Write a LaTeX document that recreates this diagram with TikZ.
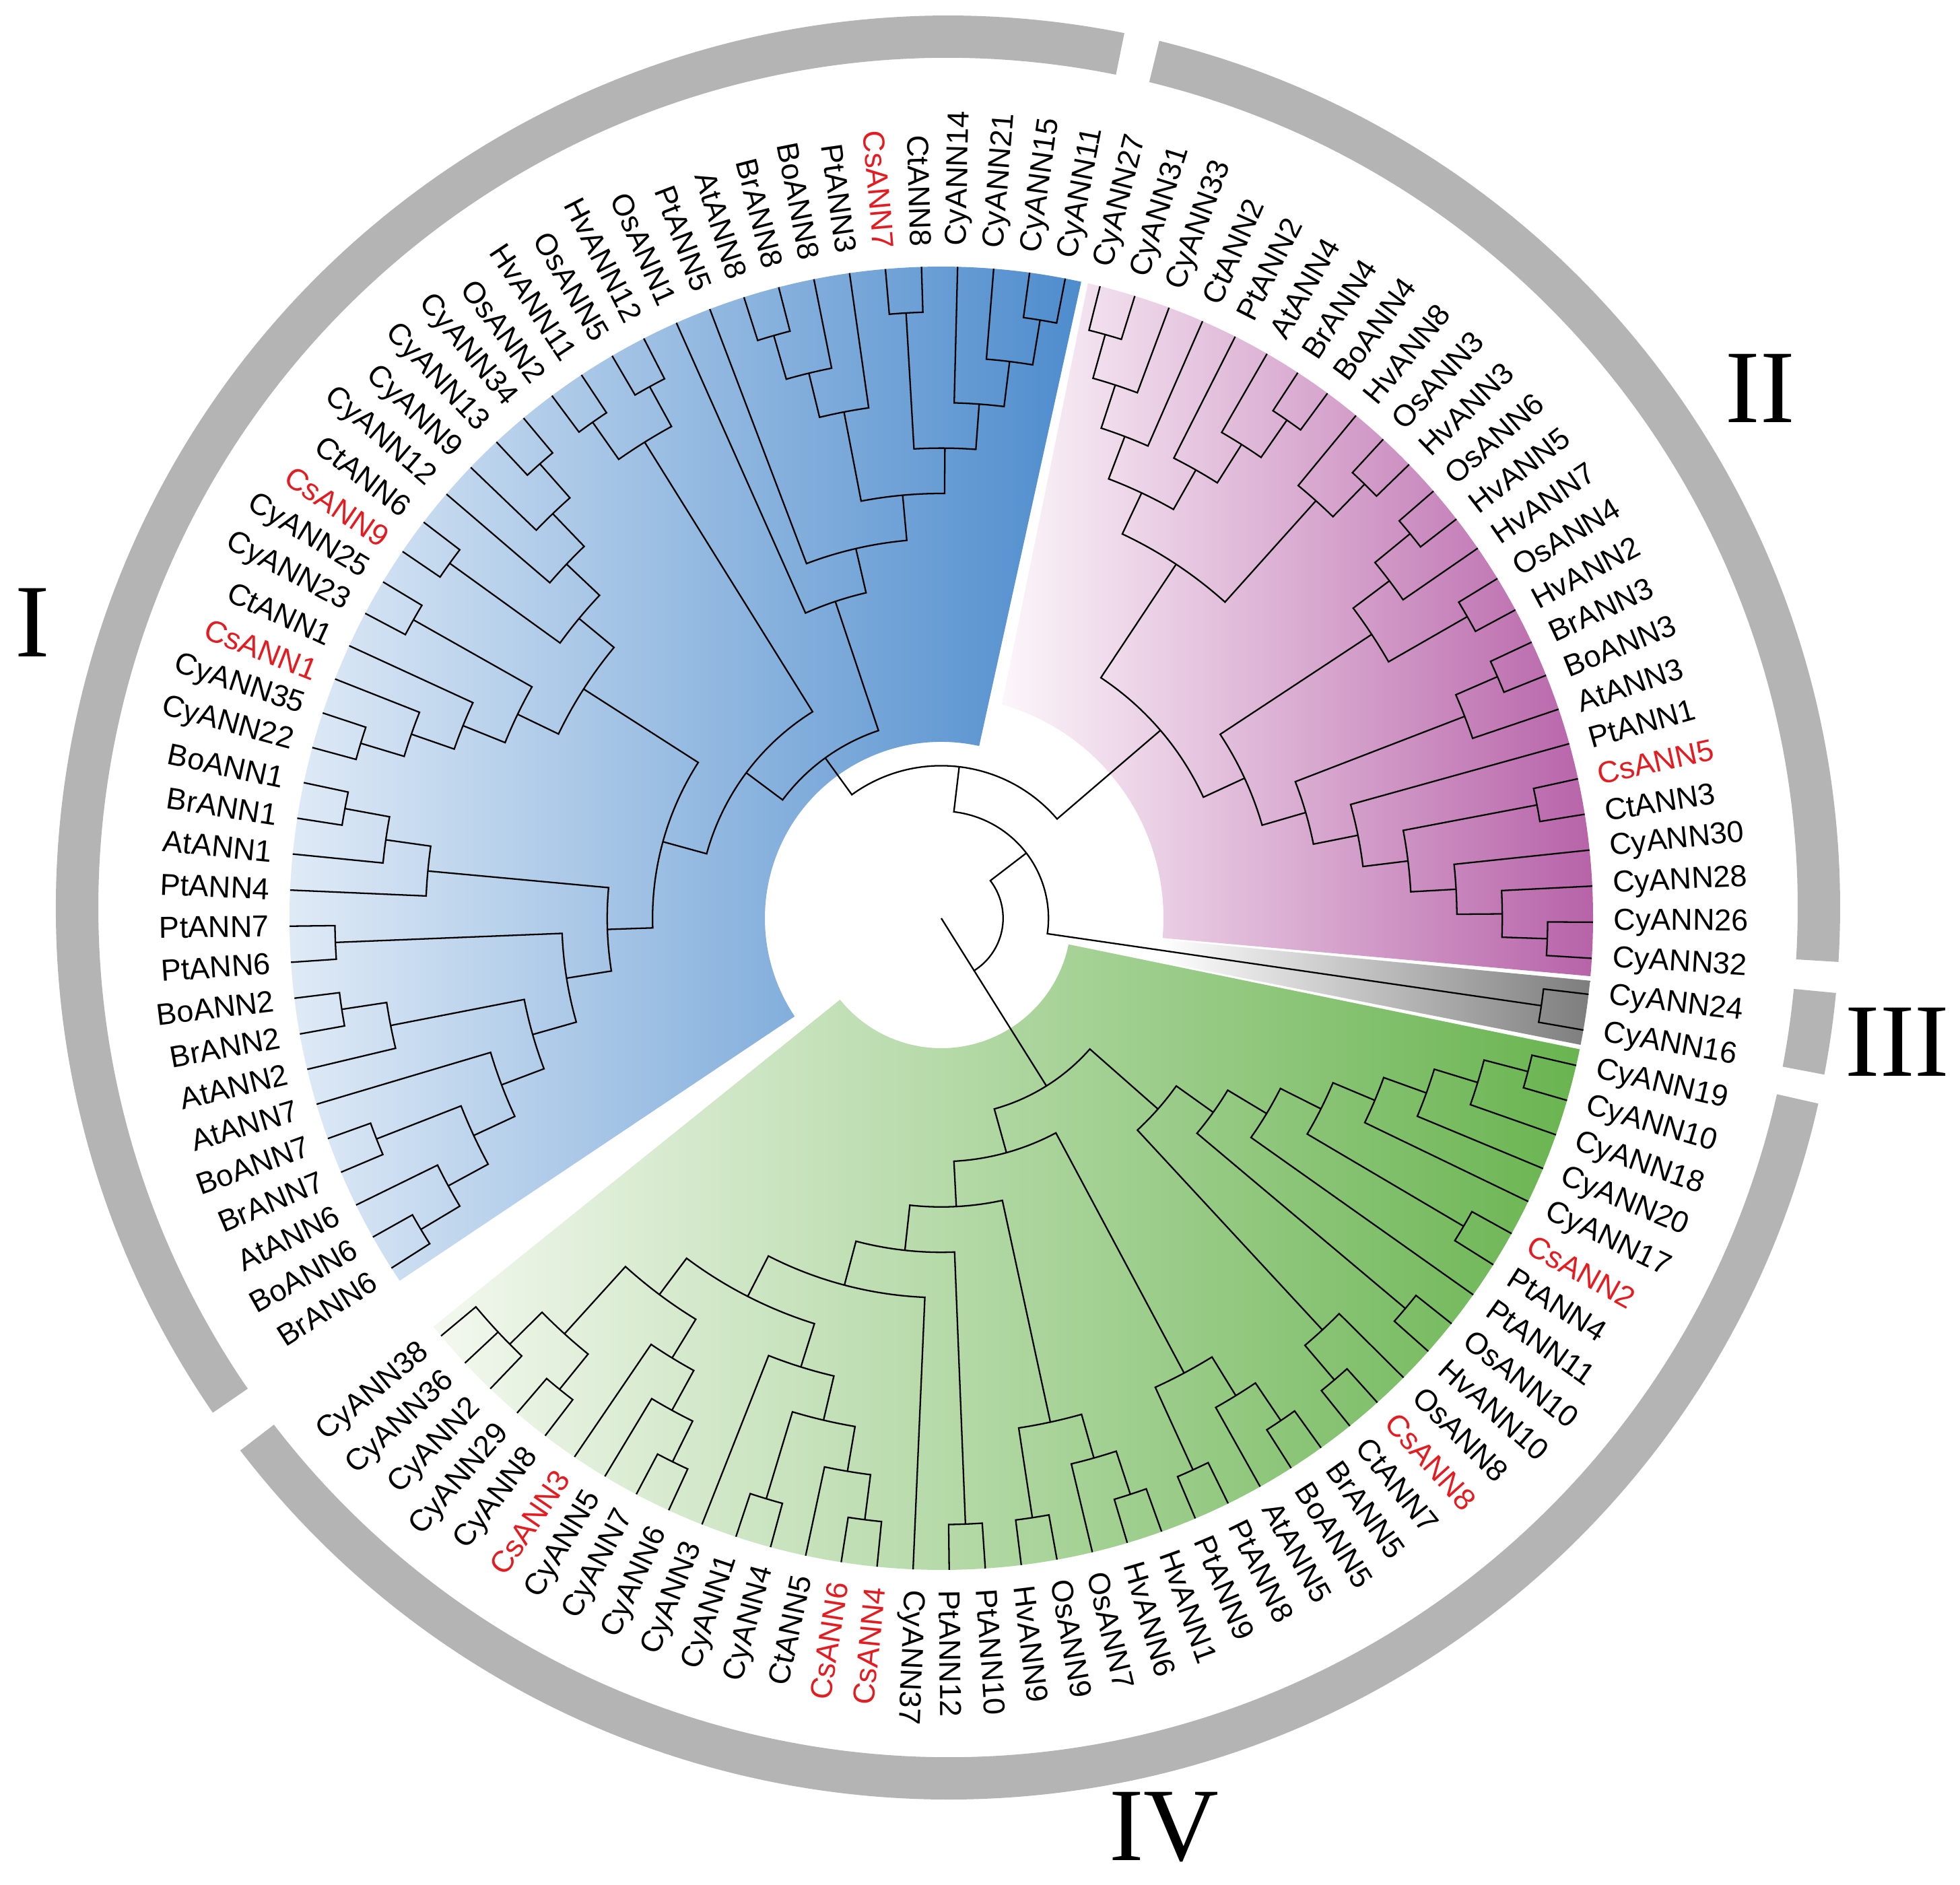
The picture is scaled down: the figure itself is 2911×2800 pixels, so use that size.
\documentclass[tikz,border=0pt]{standalone}
\usepackage{fontspec}
\setmainfont{Liberation Sans}
\newfontfamily\romanfont{Liberation Serif}
\definecolor{labred}{RGB}{226,28,33}
\definecolor{ringgray}{RGB}{180,180,180}
\definecolor{bluedark}{RGB}{78,140,205}
\definecolor{bluelight}{RGB}{240,245,251}
\definecolor{pinkdark}{RGB}{180,92,165}
\definecolor{pinklight}{RGB}{252,246,250}
\definecolor{greendark}{RGB}{105,180,80}
\definecolor{greenlight}{RGB}{243,248,239}
\definecolor{greydark}{RGB}{125,125,125}
\newcount\tlIdx
\def\Rt{968}
\def\dH{67.4}
\def\Rlab{998}
\newcommand\tleaf[2][black]{%
  \edef\tlI{\the\tlIdx}%
  \ifnum\tlIdx<69 \pgfmathsetmacro\tlAng{75.9-3.177*\tlI}\else\pgfmathsetmacro\tlAng{431.68-3.177*\tlI}\fi
  \expandafter\xdef\csname A@L\tlI\endcsname{\tlAng}%
  \expandafter\xdef\csname H@L\tlI\endcsname{0}%
  \coordinate (L\tlI) at (\tlAng:\Rt);%
  \pgfmathsetmacro\tlNorm{mod(\tlAng+540,360)-180}%
  \pgfmathtruncatemacro\tlIsR{and(\tlNorm>-94,\tlNorm<90)}%
  \ifnum\tlIsR=1
    \node[lbl,text=#1,anchor=west,rotate=\tlNorm] (T\tlI) at (\tlAng:\Rlab) {#2};%
  \else
    \node[lbl,text=#1,anchor=east,rotate=\tlNorm+180] (T\tlI) at (\tlAng:\Rlab) {#2};%
  \fi
  \global\advance\tlIdx by 1\relax}
\newcommand\tnode[3]{%
  \edef\tnA{\csname A@#2\endcsname}\edef\tnB{\csname A@#3\endcsname}%
  \edef\tnhA{\csname H@#2\endcsname}\edef\tnhB{\csname H@#3\endcsname}%
  \pgfmathtruncatemacro\tnhN{max(\tnhA,\tnhB)+1}%
  \pgfmathsetmacro\tnrN{\Rt-\dH*\tnhN}%
  \pgfmathsetmacro\tnaM{(\tnA+\tnB)/2}%
  \draw[br] (#2) -- (\tnA:\tnrN) arc[start angle=\tnA,end angle=\tnB,radius=\tnrN] -- (#3);%
  \coordinate (#1) at (\tnaM:\tnrN);%
  \expandafter\xdef\csname A@#1\endcsname{\tnaM}%
  \expandafter\xdef\csname H@#1\endcsname{\tnhN}}
\newcommand\annsec[5]{%
  \path[#5] (#1:#3) arc[start angle=#1,end angle=#2,radius=#3] -- (#2:#4) arc[start angle=#2,end angle=#1,radius=#4] -- cycle;}
\begin{document}
\begin{tikzpicture}[x=0.01cm,y=0.01cm,
  lbl/.style={font=\fontsize{12.8}{14}\selectfont,inner sep=0pt},
  br/.style={line width=0.65pt,black,line join=miter},
  roman/.style={font=\romanfont\fontsize{44}{44}\selectfont,inner sep=0pt}]
\useasboundingbox (-1398,-1436) rectangle (1513,1364);
% shaded clade sectors
\annsec{77.6}{213.8}{262}{968}{shade,left color=bluelight,right color=bluedark}
\shade[left color=pinklight,right color=pinkdark] (77.0:968) -- (74.2:330) arc[start angle=74.2,end angle=-5.1,radius=330] -- (-5.1:968) arc[start angle=-5.1,end angle=77.0,radius=968] -- cycle;
\annsec{-5.5}{-11.2}{330}{968}{shade,left color=white,right color=greydark}
\annsec{-11.6}{-141.2}{193}{968}{shade,left color=greenlight,right color=greendark}
% outer ring segments
\begin{scope}[shift={(10,16)}]
\annsec{78.6}{214.5}{1262}{1325}{fill=ringgray}
\annsec{76.3}{-3.5}{1262}{1325}{fill=ringgray}
\annsec{-5.5}{-10.8}{1262}{1325}{fill=ringgray}
\annsec{-12.7}{-142.5}{1262}{1325}{fill=ringgray}
\end{scope}
% leaves: clade II
\tleaf{CyANN27}\tleaf{CyANN31}\tleaf{CyANN33}\tleaf{CtANN2}\tleaf{PtANN2}\tleaf{AtANN4}\tleaf{BrANN4}\tleaf{BoANN4}\tleaf{HvANN8}\tleaf{OsANN3}\tleaf{HvANN3}\tleaf{OsANN6}\tleaf{HvANN5}\tleaf{HvANN7}\tleaf{OsANN4}\tleaf{HvANN2}\tleaf{BrANN3}\tleaf{BoANN3}\tleaf{AtANN3}\tleaf{PtANN1}\tleaf[labred]{CsANN5}\tleaf{CtANN3}\tleaf{CyANN30}\tleaf{CyANN28}\tleaf{CyANN26}\tleaf{CyANN32}
% clade III
\tleaf{CyANN24}\tleaf{CyANN16}
% clade IV
\tleaf{CyANN19}\tleaf{CyANN10}\tleaf{CyANN18}\tleaf{CyANN20}\tleaf{CyANN17}\tleaf[labred]{CsANN2}\tleaf{PtANN4}\tleaf{PtANN11}\tleaf{OsANN10}\tleaf{HvANN10}\tleaf{OsANN8}\tleaf[labred]{CsANN8}\tleaf{CtANN7}\tleaf{BrANN5}\tleaf{BoANN5}\tleaf{AtANN5}\tleaf{PtANN8}\tleaf{PtANN9}\tleaf{HvANN1}\tleaf{HvANN6}\tleaf{OsANN7}\tleaf{OsANN9}\tleaf{HvANN9}\tleaf{PtANN10}\tleaf{PtANN12}\tleaf{CyANN37}\tleaf[labred]{CsANN4}\tleaf[labred]{CsANN6}\tleaf{CtANN5}\tleaf{CyANN4}\tleaf{CyANN1}\tleaf{CyANN3}\tleaf{CyANN6}\tleaf{CyANN7}\tleaf{CyANN5}\tleaf[labred]{CsANN3}\tleaf{CyANN8}\tleaf{CyANN29}\tleaf{CyANN2}\tleaf{CyANN36}\tleaf{CyANN38}
% clade I
\tleaf{BrANN6}\tleaf{BoANN6}\tleaf{AtANN6}\tleaf{BrANN7}\tleaf{BoANN7}\tleaf{AtANN7}\tleaf{AtANN2}\tleaf{BrANN2}\tleaf{BoANN2}\tleaf{PtANN6}\tleaf{PtANN7}\tleaf{PtANN4}\tleaf{AtANN1}\tleaf{BrANN1}\tleaf{BoANN1}\tleaf{CyANN22}\tleaf{CyANN35}\tleaf[labred]{CsANN1}\tleaf{CtANN1}\tleaf{CyANN23}\tleaf{CyANN25}\tleaf[labred]{CsANN9}\tleaf{CtANN6}\tleaf{CyANN12}\tleaf{CyANN9}\tleaf{CyANN13}\tleaf{CyANN34}\tleaf{OsANN2}\tleaf{HvANN11}\tleaf{OsANN5}\tleaf{HvANN12}\tleaf{OsANN1}\tleaf{PtANN5}\tleaf{AtANN8}\tleaf{BrANN8}\tleaf{BoANN8}\tleaf{PtANN3}\tleaf[labred]{CsANN7}\tleaf{CtANN8}\tleaf{CyANN14}\tleaf{CyANN21}\tleaf{CyANN15}\tleaf{CyANN11}
% tree: clade II
\tnode{B1}{L0}{L1}\tnode{B2}{B1}{L2}\tnode{B3}{B2}{L3}
\tnode{B7}{L6}{L7}\tnode{B6}{L5}{B7}\tnode{B5}{L4}{B6}\tnode{B4}{B3}{B5}
\tnode{Qp}{L9}{L10}\tnode{Q}{L8}{Qp}\tnode{B8}{B4}{Q}
\tnode{T1a}{L11}{L12}\tnode{T1}{T1a}{L13}\tnode{T2}{L14}{L15}\tnode{T}{T1}{T2}
\tnode{Vp}{L16}{L17}\tnode{V}{Vp}{L18}
\tnode{U7}{L24}{L25}\tnode{U6}{L23}{U7}\tnode{U5}{L22}{U6}\tnode{U4}{L20}{L21}
\tnode{U3}{U4}{U5}\tnode{U2}{L19}{U3}\tnode{U}{V}{U2}\tnode{S}{T}{U}\tnode{RII}{B8}{S}
% clade III
\tnode{GG}{L26}{L27}
% clade IV
\tnode{E1}{L28}{L29}\tnode{E2}{E1}{L30}\tnode{E3}{E2}{L31}\tnode{E4}{E3}{L32}
\tnode{X5}{L33}{L34}\tnode{E5}{E4}{X5}\tnode{D}{E5}{L35}\tnode{Xb}{L36}{L37}\tnode{BB}{D}{Xb}
\tnode{Cp}{L39}{L40}\tnode{CC}{L38}{Cp}\tnode{AA}{BB}{CC}
\tnode{Hbb}{L41}{L42}\tnode{Hb}{Hbb}{L43}\tnode{Hp}{L44}{L45}\tnode{HH}{Hb}{Hp}
\tnode{Hv}{L46}{L47}\tnode{Ht}{Hv}{L48}\tnode{Ho}{L49}{L50}\tnode{Hq}{Ht}{Ho}
\tnode{P12}{L51}{L52}
\tnode{G1a}{L66}{L67}
\edef\aLsix{\csname A@L67\endcsname}\edef\aLeight{\csname A@L68\endcsname}
\pgfmathsetmacro\rHone{\Rt-\dH}
\draw[br] (L68) -- (\aLeight:\rHone) arc[start angle=\aLeight,end angle=\aLsix,radius=\rHone];
\tnode{G1b}{L64}{L65}\tnode{G2}{G1b}{G1a}
\tnode{Gx1}{L60}{L61}\tnode{Gx2}{Gx1}{L62}\tnode{G3c}{Gx2}{L63}\tnode{G4a}{G3c}{G2}
\tnode{Gy1}{L54}{L55}\tnode{Gy2}{Gy1}{L56}\tnode{Gy3}{L57}{L58}\tnode{G3b}{Gy2}{Gy3}\tnode{G4b}{G3b}{L59}
\tnode{G5}{G4b}{G4a}\tnode{G6}{L53}{G5}\tnode{G7}{P12}{G6}\tnode{G8}{Hq}{G7}
\tnode{FF}{HH}{G8}\tnode{RIV}{AA}{FF}
% clade I
\tnode{K1}{L69}{L70}\tnode{K2}{L71}{K1}\tnode{K3}{L72}{L73}\tnode{K4}{K2}{K3}\tnode{K5}{K4}{L74}
\tnode{K6}{L76}{L77}\tnode{K7}{L75}{K6}\tnode{K8}{K5}{K7}\tnode{K9}{L78}{L79}\tnode{N6}{K8}{K9}
\tnode{K10}{L82}{L83}\tnode{K11}{L81}{K10}\tnode{K12}{L80}{K11}\tnode{N7}{N6}{K12}
\tnode{Z1}{L84}{L85}\tnode{Z2}{Z1}{L86}\tnode{Z3}{Z2}{L87}\tnode{Z4a}{L88}{L89}\tnode{Z4}{Z3}{Z4a}
\tnode{Y1}{L90}{L91}\tnode{S1}{L94}{L95}\tnode{S2}{L93}{S1}\tnode{S3}{L92}{S2}\tnode{W}{Y1}{S3}
\tnode{Z5}{Z4}{W}\tnode{N8}{N7}{Z5}
\tnode{c1}{L96}{L97}\tnode{c2}{L98}{L99}\tnode{cc}{c1}{c2}\tnode{N9}{N8}{cc}
\tnode{M1}{L102}{L103}\tnode{M2}{M1}{L104}\tnode{M3}{M2}{L105}
\tnode{Mc}{L106}{L107}\tnode{Md}{L110}{L111}\tnode{Me}{L109}{Md}\tnode{Mf}{L108}{Me}\tnode{M4}{Mc}{Mf}
\tnode{M5}{M3}{M4}\tnode{M6}{L101}{M5}\tnode{M7}{L100}{M6}\tnode{RI}{N9}{M7}
% backbone
\tnode{YY}{RI}{RII}\tnode{XX}{YY}{GG}\tnode{ROOT}{RIV}{XX}
\edef\aRIV{\csname A@RIV\endcsname}
\pgfmathsetmacro\rRoot{\Rt-\dH*13}
\coordinate (ctr) at (0,0);
\draw[br] (ctr) -- (\aRIV:\rRoot);
% clade numerals
\node[roman] (nI) at (-1350,439) {I};
\node[roman] (nII) at (1216,787) {II};
\node[roman] (nIII) at (1420,-184) {III};
\node[roman] (nIV) at (331,-1350) {IV};
\end{tikzpicture}
\end{document}
